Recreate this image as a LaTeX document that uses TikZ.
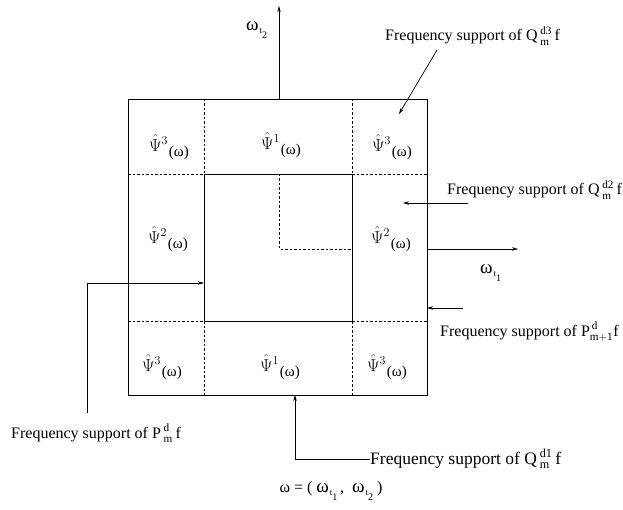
\documentclass[tikz,border=0pt]{standalone}
\usepackage{fontspec}
\setmainfont{Liberation Serif}
\usetikzlibrary{arrows.meta}
\newcommand{\psilab}[1]{$\hat{\Psi}^{#1}$\hspace{1pt}\raisebox{-5pt}{\fontsize{15}{15}\selectfont(ω)}}
\newcommand{\wsub}[1]{{\fontsize{19}{19}\selectfont ω}\hspace{1pt}\raisebox{-3pt}{\fontsize{9}{9}\selectfont t}\raisebox{-8pt}{\fontsize{10}{10}\selectfont #1}}
\newcommand{\opsc}[3]{#1\,$^{\mathrm{#2}}_{\mathrm{#3}}$\,f}
\begin{document}
\begin{tikzpicture}[x=1pt,y=-1pt,
  solidline/.style={line width=0.8pt},
  dashline/.style={line width=0.7pt,dash pattern=on 2.5pt off 2pt},
  arr/.style={line width=0.7pt,-{Stealth[length=6pt,width=3.5pt]}},
  lbl/.style={inner sep=0pt,font=\fontsize{16}{19}\selectfont},
  cell/.style={inner sep=0pt,font=\fontsize{18}{20}\selectfont}]
\useasboundingbox (0,0) rectangle (623,510);
% grid coordinates
\coordinate (O1) at (128,99);
\coordinate (O2) at (427,395);
\coordinate (I1) at (204,174);
\coordinate (I2) at (352,321);
\coordinate (C) at (279,249);
\coordinate (Ytop) at (279,6);
\coordinate (Xend) at (518,249);
% outer and inner squares
\draw[solidline] (O1) rectangle (O2);
\draw[solidline] (I1) rectangle (I2);
% dashed grid lines
\draw[dashline] (204,99) -- (204,174);
\draw[dashline] (352,99) -- (352,174);
\draw[dashline] (204,321) -- (204,395);
\draw[dashline] (352,321) -- (352,395);
\draw[dashline] (128,174) -- (204,174);
\draw[dashline] (352,174) -- (427,174);
\draw[dashline] (128,321) -- (204,321);
\draw[dashline] (352,321) -- (427,321);
\draw[dashline] (279,174) -- (C) -- (352,249);
% axes
\draw[arr] (279,99) -- (Ytop);
\draw[arr] (427,249) -- (Xend);
\node[lbl,anchor=base west] (wt2) at (246,31) {\wsub{2}};
\node[lbl,anchor=base west] (wt1) at (480,274) {\wsub{1}};
% cell labels
\node[cell] (c11) at (169,147) {\psilab{3}};
\node[cell] (c12) at (281,145) {\psilab{1}};
\node[cell] (c13) at (392,147) {\psilab{3}};
\node[cell] (c21) at (168,239) {\psilab{2}};
\node[cell] (c23) at (391,239) {\psilab{2}};
\node[cell] (c31) at (162,367) {\psilab{3}};
\node[cell] (c32) at (280,367) {\psilab{1}};
\node[cell] (c33) at (387,367) {\psilab{3}};
% annotation texts
\node[lbl,anchor=base west] (tQ3) at (385,41) {Frequency support of \opsc{Q}{d3}{m}};
\node[lbl,anchor=base west] (tQ2) at (447,195) {Frequency support of \opsc{Q}{d2}{m}};
\node[lbl,anchor=base west] (tP1) at (440,336) {Frequency support of P$^{\,\mathrm{d}}_{\mathrm{m+1}}$f};
\node[lbl,anchor=base west] (tP) at (11,438) {Frequency support of \opsc{P}{d}{m}};
\node[lbl,anchor=base west,font=\fontsize{17.5}{20}\selectfont] (tQ1) at (370,464) {Frequency support of \opsc{Q}{d1}{m}};
\node[lbl,anchor=base] (wdef) at (331,492) {ω = ( \wsub{1}\,,\ \ \wsub{2} )};
% annotation arrows
\coordinate (q3s) at (437,50);
\coordinate (q3e) at (399,114);
\draw[arr] (q3s) -- (q3e);
\coordinate (q2s) at (468,203);
\coordinate (q2e) at (403,203);
\draw[arr] (q2s) -- (q2e);
\coordinate (p1s) at (463,308);
\coordinate (p1e) at (427,308);
\draw[arr] (p1s) -- (p1e);
\coordinate (ps) at (87,413);
\coordinate (pe) at (204,283);
\draw[arr] (ps) |- (pe);
\draw[arr] (tQ1.west |- 0,459) -| (295,395);
\end{tikzpicture}
\end{document}
